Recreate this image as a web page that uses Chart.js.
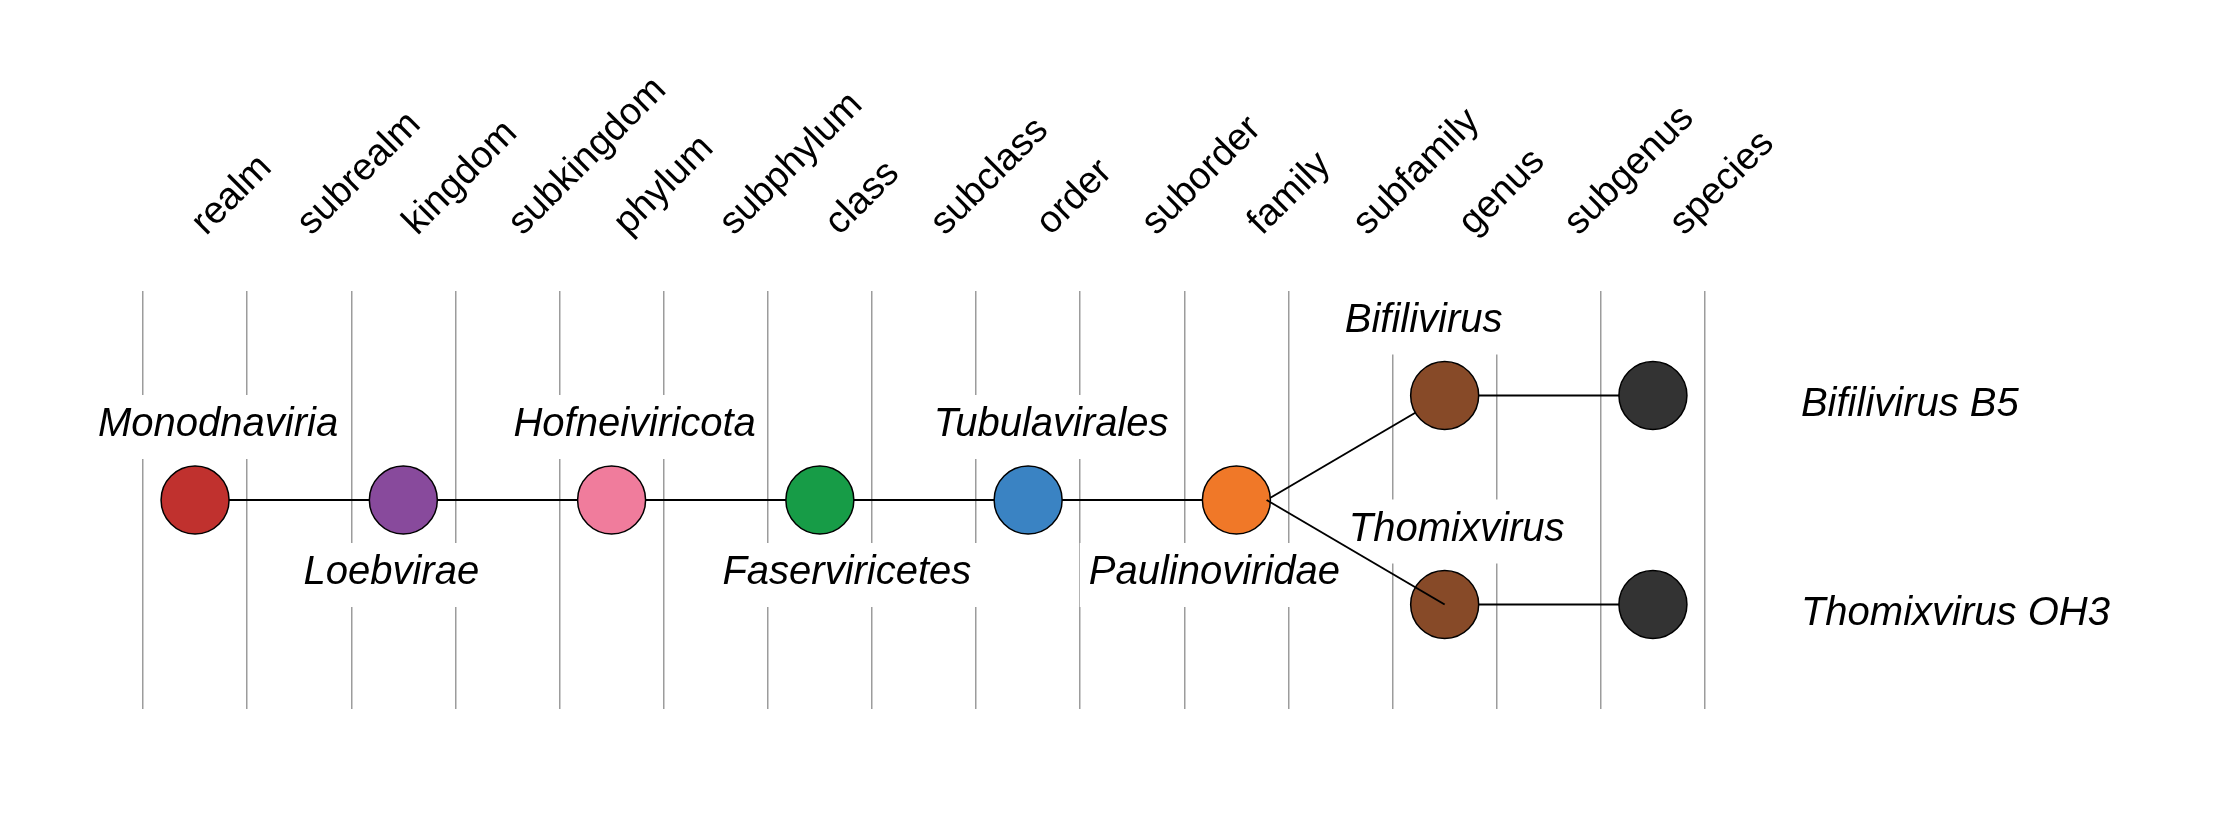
<!DOCTYPE html>
<html>
<head>
<meta charset="utf-8">
<script src="https://cdn.jsdelivr.net/npm/chart.js@4.4.1/dist/chart.umd.min.js"></script>
<style>
  html, body { margin: 0; padding: 0; background: #fff; }
  #wrap { width: 2240px; height: 821px; }
</style>
</head>
<body>
<div id="wrap"><canvas id="tree"></canvas></div>
<script>
// taxonomy ranks (columns)
const RANKS = ["realm", "subrealm", "kingdom", "subkingdom", "phylum", "subphylum", "class",
  "subclass", "order", "suborder", "family", "subfamily", "genus", "subgenus", "species"];

// taxa (nodes)
const NODE_NAMES = ["Monodnaviria", "Loebvirae", "Hofneiviricota", "Faserviricetes", "Tubulavirales",
  "Paulinoviridae", "Bifilivirus", "Thomixvirus", "Bifilivirus B5", "Thomixvirus OH3"];
const NODE_RANKS = ["realm", "kingdom", "phylum", "class", "order",
  "family", "genus", "genus", "species", "species"];
const NODE_ROWS = [0, 0, 0, 0, 0, 0, 1, -1, 1, -1];
const NODE_COLORS = ["#c0312e", "#884a9c", "#f07c9c", "#179c47", "#3a83c3",
  "#f07828", "#874a28", "#874a28", "#333333", "#333333"];
const LABEL_SIDES = ["above", "below", "above", "below", "above",
  "below", "above", "above", "right", "right"];

// parent -> child links
const EDGE_FROM = [0, 1, 2, 3, 4, 5, 5, 6, 7];
const EDGE_TO   = [1, 2, 3, 4, 5, 6, 7, 8, 9];
const EDGE_ON_TOP = [false, false, false, false, false, false, true, false, false];

const FONT = '"Liberation Sans", Arial, sans-serif';
const NODE_R = 34;
const EDGE_START = 0.29;   // links leave from the parent's right rim (in rank units)
const CAPTION_PITCH = 1.014; // rank captions sit on a slightly wider pitch than the columns

const rankIdx = (r) => RANKS.indexOf(r);

// label placement, relative to the node centre (px)
const LABEL_NUDGE = [23, -12, 23, 27, 23, -22, -21, 12, 0, 0];

const nodeLabels = {
  id: "nodeLabels",
  _items(chart) {
    const { ctx, scales } = chart;
    ctx.save();
    ctx.font = "italic 40px " + FONT;
    const items = NODE_NAMES.map((name, i) => {
      const px = scales.x.getPixelForValue(rankIdx(NODE_RANKS[i]));
      const py = scales.y.getPixelForValue(NODE_ROWS[i]);
      const w = ctx.measureText(name).width;
      let left, base;
      if (LABEL_SIDES[i] === "right") {
        left = px + 148;
        base = py + 20;
      } else {
        left = px + LABEL_NUDGE[i] - w / 2;
        base = LABEL_SIDES[i] === "above" ? py - 64 : py + 84;
      }
      return { name, left, base, w };
    });
    ctx.restore();
    return items;
  },
  beforeDatasetsDraw(chart) {
    const { ctx } = chart;
    ctx.save();
    ctx.fillStyle = "#ffffff";
    this._items(chart).forEach((it) => {
      ctx.fillRect(it.left - 9, it.base - 41, it.w + 18, 64);
    });
    ctx.restore();
  },
  afterDatasetsDraw(chart) {
    const { ctx } = chart;
    ctx.save();
    ctx.font = "italic 40px " + FONT;
    ctx.fillStyle = "#000000";
    ctx.textAlign = "left";
    ctx.textBaseline = "alphabetic";
    this._items(chart).forEach((it) => ctx.fillText(it.name, it.left, it.base));
    ctx.restore();
  },
};

const edgeSet = (i) => ({
  type: "line",
  data: [
    { x: rankIdx(NODE_RANKS[EDGE_FROM[i]]) + EDGE_START, y: NODE_ROWS[EDGE_FROM[i]] },
    { x: rankIdx(NODE_RANKS[EDGE_TO[i]]), y: NODE_ROWS[EDGE_TO[i]] },
  ],
  borderColor: "#000000",
  borderWidth: 2,
  pointRadius: 0,
  fill: false,
  order: EDGE_ON_TOP[i] ? 1 : 3,
  clip: false,
});

const gridBreaks = RANKS.map((_, i) => i - 0.5).concat(RANKS.length - 0.5);

new Chart(document.getElementById("tree"), {
  type: "scatter",
  data: {
    datasets: [
      ...EDGE_FROM.map((_, i) => edgeSet(i)),
      {
        type: "scatter",
        data: NODE_NAMES.map((_, i) => ({ x: rankIdx(NODE_RANKS[i]), y: NODE_ROWS[i] })),
        pointRadius: NODE_R,
        pointBackgroundColor: NODE_COLORS,
        pointBorderColor: "#000000",
        pointBorderWidth: 1.5,
        order: 2,
        clip: false,
      },
    ],
  },
  options: {
    responsive: true,
    maintainAspectRatio: false,
    animation: false,
    events: [],
    layout: { padding: { left: 143, right: 535, top: 0, bottom: 112 } },
    plugins: { legend: { display: false }, tooltip: { enabled: false } },
    scales: {
      x: {
        type: "linear",
        min: -0.5,
        max: RANKS.length - 0.5,
        position: "bottom",
        afterBuildTicks: (s) => { s.ticks = gridBreaks.map((v) => ({ value: v })); },
        afterFit: (s) => { s.height = 0; },
        ticks: { display: false },
        grid: { color: "#9c9c9c", lineWidth: 1.5, drawTicks: false },
        border: { display: false },
      },
      xTop: {
        type: "linear",
        position: "top",
        min: -0.5,
        max: RANKS.length / CAPTION_PITCH - 0.5,
        afterBuildTicks: (s) => { s.ticks = RANKS.map((_, i) => ({ value: i })); },
        afterFit: (s) => { s.height = 291; },
        grid: { display: false, drawTicks: false },
        border: { display: false },
        ticks: {
          autoSkip: false,
          minRotation: 45,
          maxRotation: 45,
          labelOffset: 35,
          padding: 46,
          color: "#000000",
          font: { size: 38, family: FONT },
          callback: (v, i) => RANKS[i],
        },
      },
      y: { type: "linear", min: -2, max: 2, display: false },
    },
  },
  plugins: [nodeLabels],
});
</script>
</body>
</html>
